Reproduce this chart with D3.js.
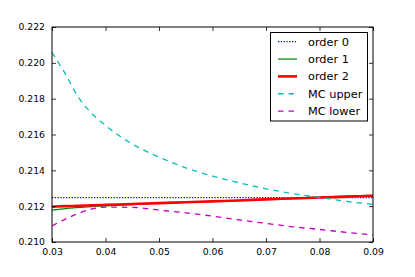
<!DOCTYPE html>
<html><head><meta charset="utf-8">
<script src="https://cdn.jsdelivr.net/npm/d3@7"></script>
<style>
html,body{margin:0;padding:0;background:#fff;}
svg text{font-family:"DejaVu Sans",sans-serif;}
</style></head>
<body><svg id="c" width="415" height="277"></svg>
<script>
const xs     = [0.03,0.0325,0.035,0.0375,0.04,0.045,0.05,0.055,0.06,0.065,0.07,0.075,0.08,0.085,0.09];
const order0 = [0.21248,0.21248,0.21248,0.21248,0.21248,0.21248,0.21248,0.21248,0.21248,0.21248,0.21248,0.21248,0.21248,0.21248,0.21248];
const order1 = [0.21178,0.21186,0.21193,0.21198,0.21202,0.21209,0.21215,0.21221,0.21227,0.21233,0.21239,0.21245,0.21251,0.21256,0.21261];
const order2 = [0.21197,0.21200,0.21202,0.21205,0.21207,0.21212,0.21217,0.21222,0.21227,0.21232,0.21238,0.21243,0.21248,0.21253,0.21258];
const mcUpper= [0.22058,0.21938,0.21804,0.21716,0.2165,0.21547,0.21474,0.21414,0.21368,0.2133,0.21297,0.2127,0.21249,0.21227,0.2121];
const mcLower= [0.2109,0.21128,0.2116,0.21185,0.21195,0.21193,0.21178,0.21163,0.21144,0.21123,0.21104,0.21085,0.2107,0.21054,0.2104];
const xTicks = [0.03,0.04,0.05,0.06,0.07,0.08,0.09];
const yTicks = [0.210,0.212,0.214,0.216,0.218,0.220,0.222];
const seriesNames = ["order 0","order 1","order 2","MC upper","MC lower"];

const svg = d3.select("#c");
const L=52, R=373, T=27, B=242;
const x = d3.scaleLinear().domain([0.03,0.09]).range([L,R]);
const y = d3.scaleLinear().domain([0.210,0.222]).range([B,T]);

const styles = [
  {color:"#0000ff", w:1.2, dash:"1.3,1.5"},
  {color:"#008000", w:1.2, dash:null},
  {color:"#ff0000", w:2.6, dash:null},
  {color:"#00bfbf", w:1.3, dash:"5.5,5"},
  {color:"#bf00bf", w:1.3, dash:"5.5,5"}
];
const data = [order0,order1,order2,mcUpper,mcLower];

svg.append("clipPath").attr("id","pc").append("rect")
  .attr("x",L).attr("y",T).attr("width",R-L).attr("height",B-T);

const line = d3.line().x((d,i)=>x(xs[i])).y(d=>y(d)).curve(d3.curveMonotoneX);
const g = svg.append("g").attr("clip-path","url(#pc)");
data.forEach((s,k)=>{
  g.append("path").attr("d",line(s)).attr("fill","none")
   .attr("stroke",styles[k].color).attr("stroke-width",styles[k].w)
   .attr("stroke-dasharray",styles[k].dash);
});

const fmt = d3.format(".2f"), fmtY = d3.format(".3f");
const axB = d3.axisBottom(x).tickValues(xTicks).tickSize(-4).tickFormat(fmt).tickPadding(6);
const axT = d3.axisTop(x).tickValues(xTicks).tickSize(-4).tickFormat("");
const axL = d3.axisLeft(y).tickValues(yTicks).tickSize(-4).tickFormat(fmtY).tickPadding(7);
const axR = d3.axisRight(y).tickValues(yTicks).tickSize(-4).tickFormat("");
function style(sel){
  sel.select(".domain").remove();
  sel.selectAll(".tick line").attr("stroke","#000").attr("stroke-width",0.8);
  sel.selectAll("text").attr("font-size","9.3px").attr("fill","#000").attr("font-family","DejaVu Sans");
}
svg.append("g").attr("transform",`translate(0,${B})`).call(axB).call(style);
svg.append("g").attr("transform",`translate(0,${T})`).call(axT).call(style);
svg.append("g").attr("transform",`translate(${L},0)`).call(axL).call(style);
svg.append("g").attr("transform",`translate(${R},0)`).call(axR).call(style);
svg.append("rect").attr("x",L).attr("y",T).attr("width",R-L).attr("height",B-T)
  .attr("fill","none").attr("stroke","#000").attr("stroke-width",1);

const lg = svg.append("g");
lg.append("rect").attr("x",270.5).attr("y",32.5).attr("width",97).attr("height",88.5)
  .attr("fill","#fff").attr("stroke","#000").attr("stroke-width",1);
seriesNames.forEach((n,k)=>{
  const cy = 41.7 + k*17.35;
  lg.append("line").attr("x1",278).attr("x2",297).attr("y1",cy).attr("y2",cy)
    .attr("stroke",styles[k].color).attr("stroke-width",styles[k].w)
    .attr("stroke-dasharray",styles[k].dash);
  lg.append("text").attr("x",308).attr("y",cy).attr("dy","0.36em")
    .attr("font-size","11.3px").attr("fill","#000").text(n);
});
</script></body></html>
